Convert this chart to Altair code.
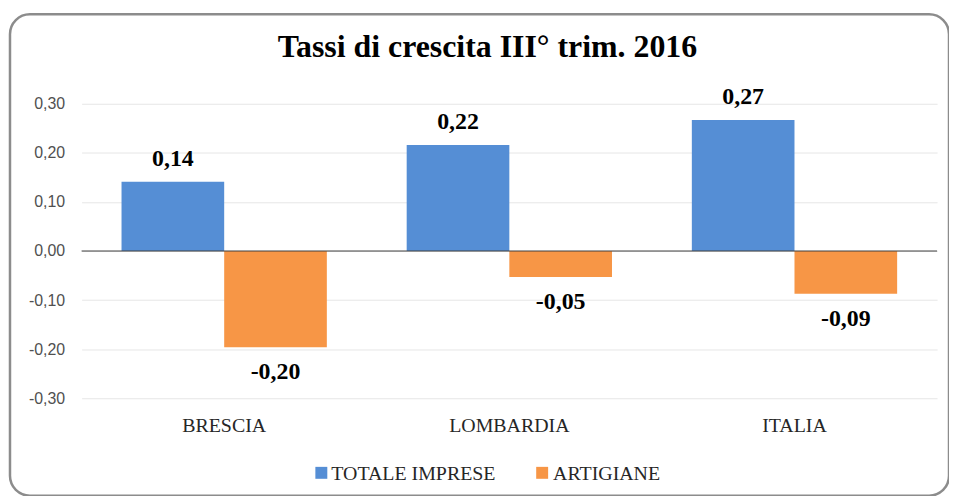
import altair as alt
import pandas as pd

categories = ["BRESCIA", "LOMBARDIA", "ITALIA"]
series = ["TOTALE IMPRESE", "ARTIGIANE"]
totale_imprese = [0.141, 0.216, 0.267]
artigiane = [-0.196, -0.053, -0.087]
y_ticks = [-0.30, -0.20, -0.10, 0.00, 0.10, 0.20, 0.30]
colors = ["#558ED5", "#F79646"]
title_text = "Tassi di crescita III° trim. 2016"

rows = []
for c, t, a in zip(categories, totale_imprese, artigiane):
    rows.append({"cat": c, "serie": series[0], "val": t})
    rows.append({"cat": c, "serie": series[1], "val": a})
df = pd.DataFrame(rows)

SERIF = "Liberation Serif"
SANS = "Liberation Sans"

x_enc = alt.X(
    "cat:N",
    sort=categories,
    scale=alt.Scale(paddingInner=0.28, paddingOuter=0.14),
    axis=alt.Axis(
        title=None, labelAngle=0, domain=False, ticks=False, grid=False,
        labelFont=SERIF, labelFontSize=20, labelColor="#262626", labelPadding=17,
    ),
)
xo_enc = alt.XOffset("serie:N", sort=series)
y_enc = alt.Y(
    "val:Q",
    scale=alt.Scale(domain=[-0.3, 0.3], nice=False, zero=False),
    axis=alt.Axis(
        title=None, values=y_ticks, format=".2f", domain=False, ticks=False,
        grid=True, gridColor="#E6E6E6", gridWidth=1,
        labelFont=SANS, labelFontSize=16, labelColor="#505050", labelPadding=17,
    ),
)

base = alt.Chart(df)

bars = base.mark_bar().encode(
    x=x_enc,
    xOffset=xo_enc,
    y=y_enc,
    color=alt.Color(
        "serie:N",
        sort=series,
        scale=alt.Scale(domain=series, range=colors),
        legend=None,
    ),
)

pos_labels = base.transform_filter("datum.val >= 0").mark_text(
    font=SERIF, fontSize=24, fontWeight="bold", color="#000000",
    baseline="alphabetic", dy=-16,
).encode(x=x_enc, xOffset=xo_enc, y=y_enc, text=alt.Text("val:Q", format=".2f"))

neg_labels = base.transform_filter("datum.val < 0").mark_text(
    font=SERIF, fontSize=24, fontWeight="bold", color="#000000",
    baseline="alphabetic", dy=32,
).encode(x=x_enc, xOffset=xo_enc, y=y_enc, text=alt.Text("val:Q", format=".2f"))

zero_rule = alt.Chart(pd.DataFrame({"z": [0.0]})).mark_rule(
    color="#404040", strokeWidth=1
).encode(y=alt.Y("z:Q"))

deco = pd.DataFrame({"t": [title_text]})
frame = alt.Chart(deco).mark_rect(
    fill="transparent", stroke="#8C8C8C", strokeWidth=2.5, cornerRadius=20
).encode(x=alt.value(-72), x2=alt.value(872), y=alt.value(-90), y2=alt.value(394))

title = alt.Chart(deco).mark_text(
    font=SERIF, fontSize=32, fontWeight="bold", color="#000000",
    baseline="alphabetic", align="center",
).encode(x=alt.value(408), y=alt.value(-47), text="t:N")

# legend (drawn as marks so that the serif font is honoured)
legend_layers = []
for name, col, sx, tx in zip(series, colors, [241, 463], [251, 474]):
    legend_layers.append(
        alt.Chart(deco).mark_square(size=144, filled=True, opacity=1).encode(
            x=alt.value(sx), y=alt.value(371), color=alt.value(col)
        )
    )
    legend_layers.append(
        alt.Chart(deco).mark_text(
            text=name, font=SERIF, fontSize=20, align="left",
            baseline="alphabetic", color="#262626",
        ).encode(x=alt.value(tx), y=alt.value(378))
    )

chart = alt.layer(
    frame, title, bars, zero_rule, pos_labels, neg_labels, *legend_layers
).properties(
    width=860,
    height=296,
    autosize=alt.AutoSizeParams(type="none"),
    padding={"left": 74, "top": 95, "right": 12, "bottom": 97},
).configure(
    background="white",
    font=SERIF,
).configure_view(
    stroke=None
)

chart.save(
    "out.html",
    embed_options={
        "renderer": "svg",
        "actions": False,
        "formatLocale": {
            "decimal": ",",
            "thousands": ".",
            "grouping": [3],
            "currency": ["€", ""],
            "minus": "-",
        },
    },
)
